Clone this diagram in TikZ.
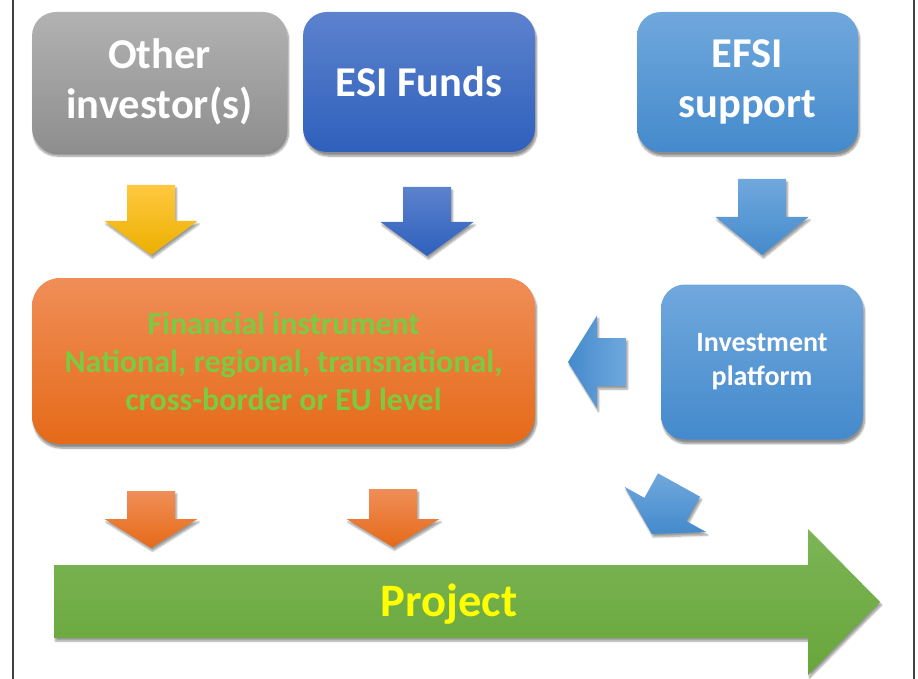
\documentclass[tikz,border=0pt]{standalone}
\usepackage{fontspec}
\setmainfont{Carlito}
\usetikzlibrary{shadows.blur}

\definecolor{greytop}{RGB}{178,178,178}
\definecolor{greybot}{RGB}{142,142,142}
\definecolor{esitop}{RGB}{92,130,205}
\definecolor{esibot}{RGB}{46,96,188}
\definecolor{efsitop}{RGB}{112,168,221}
\definecolor{efsibot}{RGB}{68,138,204}
\definecolor{fitop}{RGB}{240,142,88}
\definecolor{fibot}{RGB}{229,106,24}
\definecolor{fitext}{RGB}{124,202,66}
\definecolor{goldtop}{RGB}{255,200,64}
\definecolor{goldbot}{RGB}{236,176,0}
\definecolor{projtop}{RGB}{124,181,86}
\definecolor{projbot}{RGB}{104,166,58}
\definecolor{projtext}{RGB}{255,255,0}
\definecolor{frame}{RGB}{64,64,64}

% block arrow pointing down: #1 total length, #2 head length
\newcommand{\blockarrow}[2]{(-24,0) -- (24,0) -- (24,#1-#2) -- (46.5,#1-#2) -- (0,#1) -- (-46.5,#1-#2) -- (-24,#1-#2) -- cycle}

\tikzset{
  box/.style={rounded corners=24pt, inner sep=0pt, align=center, text=white,
    blur shadow={shadow xshift=1.5pt, shadow yshift=-4pt, shadow blur steps=8, shadow opacity=45}},
  arrowshade/.style={blur shadow={shadow xshift=1.5pt, shadow yshift=-3pt, shadow blur steps=6, shadow opacity=40}},
}

\begin{document}
\begin{tikzpicture}[x=1pt,y=-1pt]
\useasboundingbox (0,0) rectangle (918,679);

% frame lines
\draw[frame, line width=2pt] (13,0) -- (13,679);
\draw[frame, line width=2pt] (914,0) -- (914,679);

% sources
\node[box, minimum width=255, minimum height=140, top color=greytop, bottom color=greybot,
  font=\fontsize{42.5}{50}\selectfont\bfseries] at (159.5,82) (other) {Other\\investor(s)};
\node[box, minimum width=232, minimum height=140, top color=esitop, bottom color=esibot,
  font=\fontsize{42.5}{50}\selectfont\bfseries] at (419,82) (esi) {ESI Funds};
\node[box, minimum width=221, minimum height=140, top color=efsitop, bottom color=efsibot,
  font=\fontsize{42.5}{50}\selectfont\bfseries] at (747.5,82) (efsi) {EFSI\\support};

% middle row
\node[box, rounded corners=28pt, minimum width=503, minimum height=166, top color=fitop, bottom color=fibot,
  text=fitext, font=\fontsize{32}{38}\selectfont\bfseries] at (283.5,361) (fi)
  {Financial instrument\\National, regional, transnational,\\cross-border or EU level};
\node[box, minimum width=202, minimum height=155, top color=efsitop, bottom color=efsibot,
  font=\fontsize{28}{34}\selectfont\bfseries] at (762,362) (platform) {Investment\\platform};

% arrows
\path[arrowshade, top color=goldtop, bottom color=goldbot, shift={(151,185)}] \blockarrow{70}{34};
\path[arrowshade, top color=esitop, bottom color=esibot, shift={(427,187)}] \blockarrow{69}{34};
\path[arrowshade, top color=efsitop, bottom color=efsibot, shift={(762,179)}] \blockarrow{76}{38};
\path[arrowshade, left color=efsibot, right color=efsitop, shift={(626,362)}, rotate=-90] \blockarrow{58}{29};
\path[arrowshade, top color=efsitop, bottom color=efsibot, shift={(679,485)}, rotate=-29] \blockarrow{56}{28};
\path[arrowshade, top color=fitop, bottom color=fibot, shift={(151,491)}] \blockarrow{57}{29};
\path[arrowshade, top color=fitop, bottom color=fibot, shift={(393,489)}] \blockarrow{58}{28};

% project
\path[arrowshade, top color=projtop, bottom color=projbot]
  (54,565) -- (808,565) -- (808,529) -- (880,602) -- (808,675) -- (808,638) -- (54,638) -- cycle;
\node[text=projtext, font=\fontsize{46.5}{50}\selectfont\bfseries] at (449,604) (project) {Project};

\end{tikzpicture}
\end{document}
